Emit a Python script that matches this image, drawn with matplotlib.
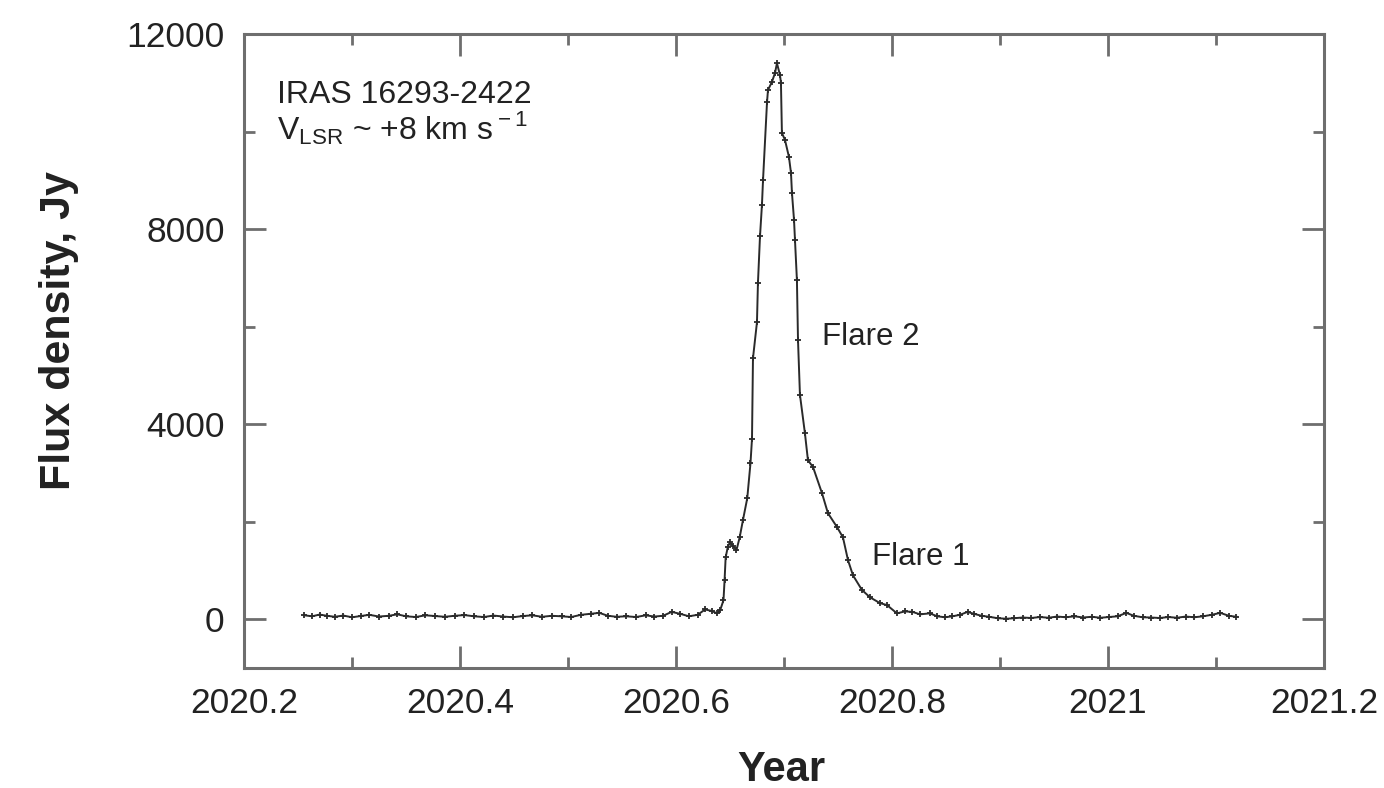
import matplotlib
matplotlib.use("Agg")
import matplotlib.pyplot as plt
from matplotlib.ticker import MultipleLocator

plt.rcParams['font.family'] = ['Liberation Sans', 'DejaVu Sans']
plt.rcParams['mathtext.fontset'] = 'custom'
plt.rcParams['mathtext.rm'] = 'Liberation Sans'

# quiet phase before the flare
years_pre = [2020.256, 2020.263, 2020.270, 2020.277, 2020.284, 2020.292, 2020.300,
             2020.308, 2020.316, 2020.325, 2020.334, 2020.342, 2020.350, 2020.359,
             2020.368, 2020.377, 2020.386, 2020.395, 2020.404, 2020.413, 2020.422,
             2020.431, 2020.440, 2020.449, 2020.458, 2020.467, 2020.476, 2020.485,
             2020.494, 2020.503, 2020.512, 2020.521, 2020.529, 2020.537, 2020.545,
             2020.554, 2020.563, 2020.572, 2020.580, 2020.588, 2020.596, 2020.604,
             2020.612, 2020.620, 2020.627, 2020.633, 2020.638, 2020.641]
flux_pre = [80, 60, 95, 70, 50, 75, 40, 65, 90, 55, 70, 100, 60, 45,
            80, 65, 50, 70, 85, 60, 45, 75, 55, 40, 65, 80, 50, 70,
            60, 45, 90, 110, 130, 70, 50, 60, 45, 80, 55, 70, 150, 110,
            60, 90, 200, 170, 120, 190]

# flare (rise, peak, decay)
years_flare = [2020.644, 2020.645, 2020.646, 2020.648, 2020.650, 2020.653, 2020.656,
               2020.659, 2020.662, 2020.666, 2020.669, 2020.6704, 2020.6713, 2020.6750,
               2020.6759, 2020.6778, 2020.6796, 2020.6806, 2020.6843, 2020.6852,
               2020.6889, 2020.6917, 2020.6935, 2020.6963, 2020.6972, 2020.6981,
               2020.7009, 2020.7046, 2020.7065, 2020.7074, 2020.7093, 2020.7102,
               2020.7120, 2020.7130, 2020.7148, 2020.7194, 2020.7222, 2020.7269,
               2020.7352, 2020.7407, 2020.7491, 2020.7546, 2020.7593, 2020.7639,
               2020.7722, 2020.7796, 2020.7889, 2020.7954, 2020.8046]
flux_flare = [390, 800, 1270, 1480, 1580, 1500, 1415,
              1680, 2030, 2480, 3200, 3700, 5350, 6090,
              6890, 7850, 8490, 9000, 10600, 10850,
              11020, 11200, 11400, 11160, 11000, 9970,
              9830, 9480, 9150, 8740, 8190, 7770,
              6950, 5720, 4600, 3815, 3260, 3120,
              2585, 2175, 1890, 1680, 1210, 900,
              600, 450, 330, 290, 120]

# quiet phase after the flare
years_post = [2020.812, 2020.819, 2020.826, 2020.835, 2020.842, 2020.849, 2020.856,
              2020.863, 2020.870, 2020.876, 2020.883, 2020.890, 2020.898, 2020.906,
              2020.913, 2020.921, 2020.929, 2020.937, 2020.945, 2020.953, 2020.961,
              2020.969, 2020.977, 2020.985, 2020.993, 2021.001, 2021.009, 2021.017,
              2021.024, 2021.032, 2021.040, 2021.048, 2021.056, 2021.064, 2021.072,
              2021.080, 2021.088, 2021.096, 2021.104, 2021.112, 2021.119]
flux_post = [160, 150, 100, 120, 60, 40, 60,
             90, 150, 110, 70, 50, 20, 10,
             20, 35, 25, 45, 30, 55, 40,
             60, 35, 50, 30, 45, 60, 130,
             70, 40, 35, 25, 45, 30, 55,
             40, 60, 90, 130, 70, 50]

years = years_pre + years_flare + years_post
flux = flux_pre + flux_flare + flux_post

fig = plt.figure(figsize=(13.84, 7.88), dpi=100)
ax = fig.add_axes([0.1763, 0.1523, 0.7803, 0.8046])

ax.plot(years, flux, color='#2a2a2a', lw=1.4, marker='+', ms=5, mew=1.3)

ax.set_xlim(2020.2, 2021.2)
ax.set_ylim(-1000, 12000)
ax.xaxis.set_minor_locator(MultipleLocator(0.1))
ax.yaxis.set_major_locator(MultipleLocator(4000))
ax.yaxis.set_minor_locator(MultipleLocator(2000))
ax.set_xticks([2020.2, 2020.4, 2020.6, 2020.8, 2021.0, 2021.2])
ax.set_xticklabels(['2020.2', '2020.4', '2020.6', '2020.8', '2021', '2021.2'])

for s in ax.spines.values():
    s.set_color('#6e6e6e')
    s.set_linewidth(2.2)
ax.tick_params(which='both', direction='in', top=True, right=True,
               color='#6e6e6e', width=2, labelsize=25.5, labelcolor='#222222')
ax.tick_params(which='major', length=16, pad=14)
ax.tick_params(which='minor', length=8)

ax.set_xlabel('Year', fontsize=30, fontweight='bold', color='#222222')
ax.set_ylabel('Flux density, Jy', fontsize=31, fontweight='bold', color='#222222')
ax.xaxis.set_label_coords(0.498, -0.13)
ax.yaxis.set_label_coords(-0.153, 0.532)

ax.text(2020.2306, 10750, 'IRAS 16293-2422', fontsize=23, color='#222222', va='center')
ax.text(2020.2306, 10070, r'V$_{\rm LSR}$ ~ +8 km s$^{\rm -1}$', fontsize=23,
        color='#222222', va='center')
ax.text(2020.735, 5785, 'Flare 2', fontsize=22.5, color='#222222', va='center')
ax.text(2020.7815, 1270, 'Flare 1', fontsize=22.5, color='#222222', va='center')

fig.savefig('out.png', dpi=100, facecolor='white')
